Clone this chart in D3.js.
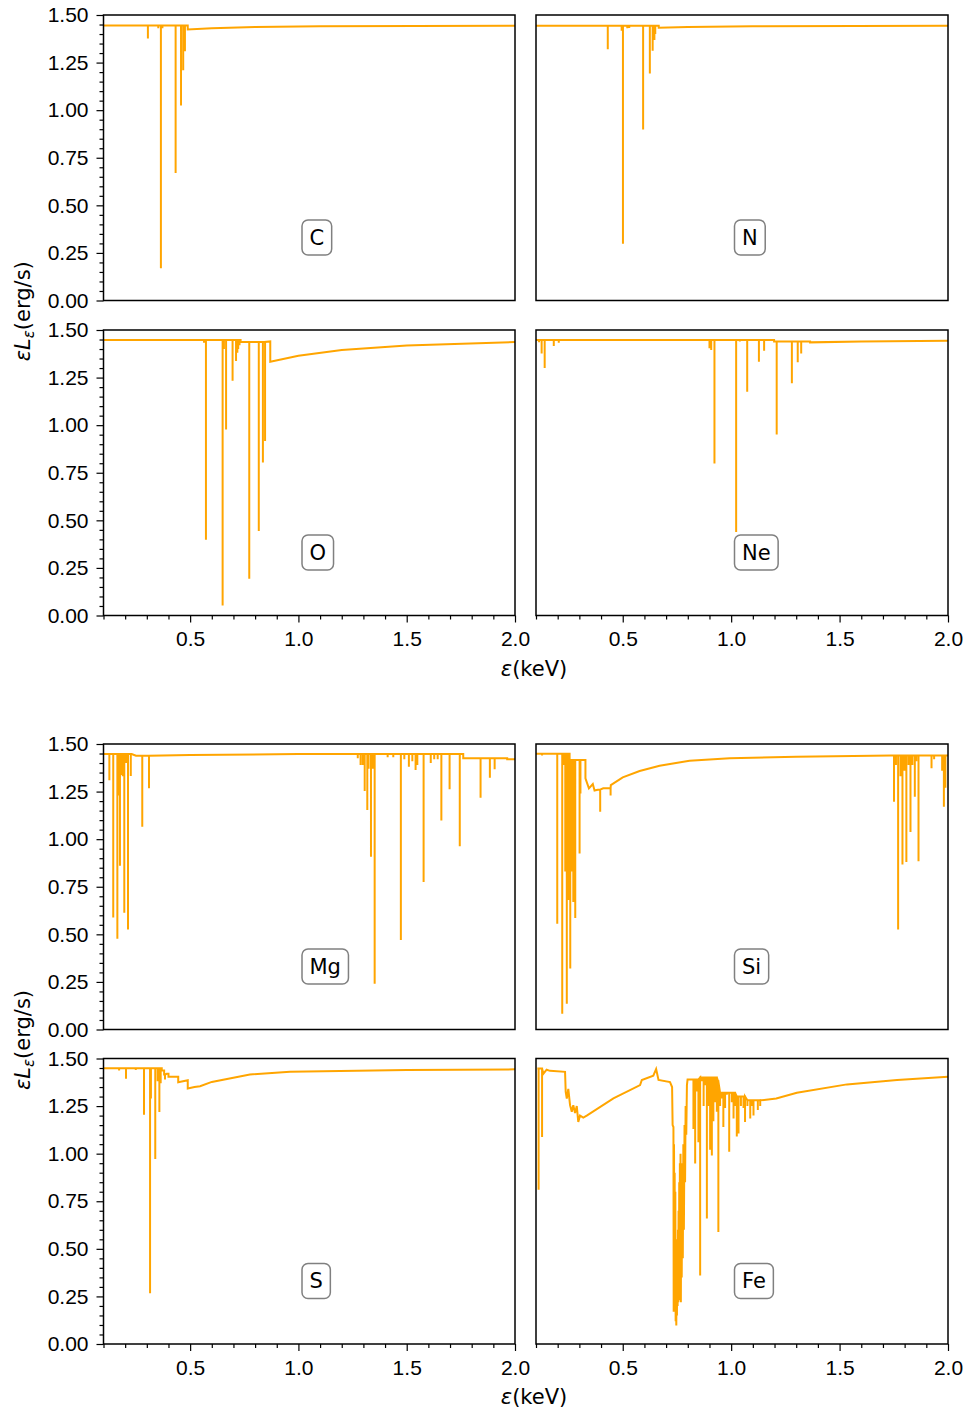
<!DOCTYPE html>
<html>
<head>
<meta charset="utf-8">
<script src="https://cdn.jsdelivr.net/npm/d3@7"></script>
<style>
  body { margin: 0; background: #fff; }
  svg { display: block; font-family: "DejaVu Sans", sans-serif; }
  .axis text { font-size: 21px; fill: #000; }
  .axis line { stroke: #000; stroke-width: 1.2; }
</style>
</head>
<body>
<div id="chart"></div>
<script>
// tick values
const xMajorTicks = [0.5, 1.0, 1.5, 2.0];
const xMinorTicks = [0.1, 0.2, 0.3, 0.4, 0.6, 0.7, 0.8, 0.9, 1.1, 1.2, 1.3, 1.4, 1.6, 1.7, 1.8, 1.9];
const yMajorTicks = [0, 0.25, 0.5, 0.75, 1.0, 1.25, 1.5];
const yMinorTicks = [0.05, 0.1, 0.15, 0.2, 0.3, 0.35, 0.4, 0.45, 0.55, 0.6, 0.65, 0.7, 0.8, 0.85, 0.9, 0.95, 1.05, 1.1, 1.15, 1.2, 1.3, 1.35, 1.4, 1.45];

const elements = ["C", "N", "O", "Ne", "Mg", "Si", "S", "Fe"];

// continuum knots: [energy keV, eL_e]
const contC = [[0.1, 1.445], [0.489, 1.445], [0.489, 1.424], [0.6, 1.430], [0.8, 1.437], [1.1, 1.441], [2.0, 1.443]];
const contN = [[0.1, 1.444], [0.666, 1.444], [0.666, 1.433], [0.8, 1.437], [1.1, 1.441], [2.0, 1.444]];
const contO = [[0.1, 1.447], [0.733, 1.447], [0.733, 1.437], [0.870, 1.440], [0.870, 1.333], [1.0, 1.365], [1.2, 1.395], [1.5, 1.418], [2.0, 1.437]];
const contNe = [[0.1, 1.447], [1.198, 1.447], [1.198, 1.440], [1.364, 1.440], [1.364, 1.435], [1.6, 1.439], [2.0, 1.443]];
const contMg = [[0.1, 1.447], [0.23, 1.447], [0.25, 1.438], [0.5, 1.442], [1.0, 1.447], [1.761, 1.447], [1.761, 1.425], [1.964, 1.425], [1.964, 1.420], [2.0, 1.420]];
const contSi = [[0.1, 1.449], [0.255, 1.449], [0.255, 1.416], [0.328, 1.416], [0.328, 1.319], [0.344, 1.267], [0.362, 1.29], [0.370, 1.256],
  [0.385, 1.26], [0.41, 1.267], [0.44, 1.267], [0.445, 1.284], [0.50, 1.325], [0.578, 1.358], [0.670, 1.386], [0.808, 1.412],
  [0.993, 1.425], [1.30, 1.433], [1.739, 1.44], [2.0, 1.44]];
const contS = [[0.1, 1.449], [0.369, 1.449], [0.369, 1.437], [0.38, 1.437], [0.38, 1.416], [0.392, 1.42], [0.40, 1.42], [0.40, 1.404],
  [0.445, 1.404], [0.445, 1.375], [0.489, 1.386], [0.489, 1.342], [0.52, 1.35], [0.546, 1.354], [0.60, 1.377], [0.776, 1.416],
  [0.961, 1.43], [1.5, 1.44], [2.0, 1.443]];
const contFe = [[0.106, 1.448], [0.134, 1.42], [0.149, 1.441], [0.165, 1.435], [0.234, 1.43], [0.237, 1.325], [0.242, 1.29], [0.249, 1.34],
  [0.257, 1.255], [0.265, 1.22], [0.272, 1.255], [0.280, 1.213], [0.288, 1.25], [0.295, 1.167], [0.303, 1.20], [0.318, 1.19],
  [0.334, 1.20], [0.457, 1.29], [0.580, 1.36], [0.588, 1.387], [0.641, 1.41], [0.654, 1.445], [0.665, 1.387], [0.718, 1.376],
  [0.7276, 1.35], [0.7300, 1.15], [0.7338, 1.14], [0.7350, 0.17], [0.7365, 1.05], [0.7380, 0.25], [0.7395, 0.90], [0.7410, 0.20],
  [0.7425, 0.80], [0.7440, 0.12], [0.7455, 0.55], [0.7470, 0.097], [0.7485, 0.45], [0.7500, 0.15], [0.7515, 0.50], [0.7530, 0.20],
  [0.7545, 0.60], [0.7560, 0.22], [0.7575, 0.70], [0.7590, 0.25], [0.7605, 0.85], [0.7620, 0.30], [0.7635, 0.95], [0.7650, 0.23],
  [0.7665, 1.00], [0.7680, 0.22], [0.7700, 0.90], [0.7720, 0.35], [0.7745, 0.95], [0.7770, 0.45], [0.7795, 1.05], [0.7820, 0.60],
  [0.7850, 1.15], [0.7875, 0.85], [0.7900, 1.25], [0.7930, 1.10], [0.7960, 1.36], [0.7990, 1.39], [0.857, 1.40], [0.911, 1.40],
  [0.940, 1.38], [0.949, 1.32], [0.991, 1.32], [1.026, 1.30], [1.075, 1.28], [1.134, 1.28], [1.208, 1.29], [1.303, 1.32],
  [1.534, 1.364], [1.765, 1.387], [2.0, 1.404]];

// absorption lines: [energy keV, minimum eL_e]
const linesC = [[0.305, 1.376], [0.353, 1.430], [0.365, 0.17], [0.372, 1.43], [0.433, 0.67], [0.458, 1.025], [0.468, 1.21], [0.476, 1.31]];
const linesN = [[0.431, 1.32], [0.495, 1.417], [0.501, 0.298], [0.521, 1.43], [0.530, 1.432], [0.594, 0.898], [0.625, 1.193],
  [0.638, 1.312], [0.646, 1.368], [0.650, 1.40]];
const linesO = [[0.564, 1.433], [0.573, 0.398], [0.650, 0.053], [0.656, 1.40], [0.666, 0.977], [0.696, 1.233], [0.712, 1.337],
  [0.718, 1.38], [0.722, 1.40], [0.728, 1.42], [0.773, 0.193], [0.817, 0.444], [0.836, 0.804], [0.846, 0.917]];
const linesNe = [[0.114, 1.435], [0.126, 1.377], [0.140, 1.30], [0.182, 1.416], [0.205, 1.433], [0.900, 1.404], [0.908, 1.395],
  [0.923, 0.798], [1.023, 0.439], [1.040, 1.44], [1.074, 1.175], [1.128, 1.333], [1.152, 1.391], [1.210, 0.951], [1.280, 1.22],
  [1.307, 1.33], [1.323, 1.377]];
const linesMg = [[0.127, 1.31], [0.145, 0.588], [0.164, 0.477], [0.170, 1.23], [0.176, 0.86], [0.184, 1.337], [0.189, 1.33],
  [0.196, 0.614], [0.204, 1.40], [0.213, 0.525], [0.226, 1.332], [0.279, 1.065], [0.310, 1.267], [1.274, 1.425], [1.287, 1.39],
  [1.297, 1.39], [1.306, 1.253], [1.318, 1.153], [1.324, 1.37], [1.335, 0.907], [1.343, 1.37], [1.352, 0.24], [1.412, 1.43],
  [1.438, 1.43], [1.473, 0.47], [1.489, 1.42], [1.510, 1.38], [1.526, 1.41], [1.541, 1.363], [1.549, 1.39], [1.578, 0.775],
  [1.611, 1.40], [1.627, 1.42], [1.643, 1.42], [1.660, 1.098], [1.698, 1.262], [1.745, 0.963], [1.841, 1.217], [1.884, 1.323],
  [1.906, 1.367]];
const linesSi = [[0.128, 1.44], [0.198, 0.556], [0.221, 0.083], [0.227, 1.39], [0.235, 0.83], [0.242, 0.135], [0.250, 0.68],
  [0.258, 0.32], [0.265, 0.83], [0.272, 0.67], [0.281, 0.586], [0.301, 0.925], [0.305, 1.24], [0.396, 1.144], [0.444, 1.23],
  [1.751, 1.196], [1.760, 1.39], [1.770, 0.525], [1.781, 1.33], [1.790, 0.867], [1.799, 1.36], [1.808, 0.88], [1.818, 1.39],
  [1.827, 1.038], [1.836, 1.39], [1.847, 1.223], [1.854, 1.41], [1.864, 0.884], [1.924, 1.372], [1.936, 1.42], [1.973, 1.36],
  [1.981, 1.17], [1.988, 1.27]];
const linesS = [[0.172, 1.437], [0.204, 1.393], [0.249, 1.44], [0.287, 1.205], [0.315, 0.267], [0.319, 1.29], [0.339, 0.972],
  [0.350, 1.38], [0.358, 1.219], [0.364, 1.37], [0.384, 1.39]];
const linesFe = [[0.112, 0.81], [0.128, 1.087], [0.826, 1.13], [0.834, 0.948], [0.842, 1.327], [0.849, 1.06], [0.857, 0.36],
  [0.865, 1.38], [0.873, 1.25], [0.880, 1.36], [0.888, 0.659], [0.895, 1.25], [0.903, 1.02], [0.911, 0.99], [0.918, 1.17],
  [0.926, 1.27], [0.934, 1.22], [0.941, 0.588], [0.949, 1.25], [0.957, 1.29], [0.964, 1.14], [0.972, 1.24], [0.980, 1.31],
  [0.991, 1.01], [1.003, 1.27], [1.011, 1.185], [1.018, 1.25], [1.026, 1.09], [1.034, 1.106], [1.045, 1.25], [1.057, 1.24],
  [1.064, 1.166], [1.075, 1.25], [1.088, 1.185], [1.095, 1.25], [1.103, 1.20], [1.123, 1.23], [1.134, 1.25]];

const continua = [contC, contN, contO, contNe, contMg, contSi, contS, contFe];
const absLines = [linesC, linesN, linesO, linesNe, linesMg, linesSi, linesS, linesFe];

const width = 969, height = 1410;
const lineColor = "#ffa500";

// panel grid
const cols = [{ x0: 103.5, x1: 515 }, { x0: 536, x1: 948 }];
const rows = [{ y0: 15, y1: 300.5 }, { y0: 330, y1: 615.5 }, { y0: 744, y1: 1029.5 }, { y0: 1058.5, y1: 1344 }];

const svg = d3.select("#chart").append("svg")
    .attr("width", width)
    .attr("height", height);

svg.append("rect").attr("width", width).attr("height", height).attr("fill", "#fff");

// merge continuum and lines into one spectrum path
function buildSpectrum(cont, lines) {
    const items = cont.map(c => ({ e: c[0], v: c[1], kind: "c" }))
        .concat(lines.map(l => ({ e: l[0], v: l[1], kind: "l" })));
    items.sort((a, b) => a.e - b.e);
    const pts = [];
    let lvl = cont[0][1];
    for (const it of items) {
        if (it.kind === "c") {
            pts.push([it.e, it.v]);
            lvl = it.v;
        } else {
            pts.push([it.e, lvl], [it.e, it.v], [it.e, lvl]);
        }
    }
    return pts;
}

elements.forEach((name, i) => {
    const row = rows[Math.floor(i / 2)];
    const col = cols[i % 2];
    const rowIdx = Math.floor(i / 2);
    const showX = rowIdx % 2 === 1;
    const showY = i % 2 === 0;

    const x = d3.scaleLinear().domain([0.1, 2.0]).range([col.x0, col.x1]);
    const y = d3.scaleLinear().domain([0, 1.5]).range([row.y1, row.y0]);

    const g = svg.append("g");

    g.append("clipPath").attr("id", "clip" + i)
        .append("rect")
        .attr("x", col.x0).attr("y", row.y0)
        .attr("width", col.x1 - col.x0).attr("height", row.y1 - row.y0);

    const line = d3.line().x(d => x(d[0])).y(d => y(d[1]));

    g.append("path")
        .datum(buildSpectrum(continua[i], absLines[i]))
        .attr("clip-path", `url(#clip${i})`)
        .attr("d", line)
        .attr("fill", "none")
        .attr("stroke", lineColor)
        .attr("stroke-width", 2)
        .attr("stroke-linejoin", "miter");

    // axes
    if (showX) {
        g.append("g").attr("class", "axis")
            .attr("transform", `translate(0, ${row.y1})`)
            .call(d3.axisBottom(x).tickValues(xMinorTicks).tickSize(4).tickFormat(""))
            .call(a => a.select(".domain").remove());
        g.append("g").attr("class", "axis")
            .attr("transform", `translate(0, ${row.y1})`)
            .call(d3.axisBottom(x).tickValues(xMajorTicks).tickSize(7).tickPadding(9).tickFormat(d3.format(".1f")))
            .call(a => a.select(".domain").remove());
    }
    if (showY) {
        g.append("g").attr("class", "axis")
            .attr("transform", `translate(${col.x0}, 0)`)
            .call(d3.axisLeft(y).tickValues(yMinorTicks).tickSize(4).tickFormat(""))
            .call(a => a.select(".domain").remove());
        g.append("g").attr("class", "axis")
            .attr("transform", `translate(${col.x0}, 0)`)
            .call(d3.axisLeft(y).tickValues(yMajorTicks).tickSize(7).tickPadding(8).tickFormat(d3.format(".2f")))
            .call(a => a.select(".domain").remove());
    }

    // frame
    g.append("rect")
        .attr("x", col.x0).attr("y", row.y0)
        .attr("width", col.x1 - col.x0).attr("height", row.y1 - row.y0)
        .attr("fill", "none")
        .attr("stroke", "#000")
        .attr("stroke-width", 1.5);

    // element label box
    const lab = g.append("g").attr("transform", `translate(${col.x0 + 198.5}, ${row.y1 - 63})`);
    const box = lab.append("rect");
    const txt = lab.append("text")
        .attr("font-size", 21)
        .attr("dominant-baseline", "central")
        .attr("y", 0)
        .text(name);
    const tw = txt.node().getComputedTextLength();
    txt.attr("x", 7.5);
    box.attr("x", 0).attr("y", -17.5)
        .attr("width", tw + 15).attr("height", 35)
        .attr("rx", 6).attr("ry", 6)
        .attr("fill", "#fff")
        .attr("stroke", "#808080")
        .attr("stroke-width", 1.5);
});

// shared axis labels for each group
[0, 1].forEach(grp => {
    const top = rows[grp * 2].y0, bottom = rows[grp * 2 + 1].y1;
    const yl = svg.append("text")
        .attr("transform", `translate(30, ${(top + bottom) / 2 - 4}) rotate(-90)`)
        .attr("text-anchor", "middle")
        .attr("font-size", 21);
    yl.append("tspan").attr("font-style", "italic").text("εL");
    yl.append("tspan").attr("font-style", "italic").attr("font-size", 15).attr("dy", 4).text("ε");
    yl.append("tspan").attr("dy", -4).text("(erg/s)");

    const xl = svg.append("text")
        .attr("x", 534)
        .attr("y", bottom + 60)
        .attr("text-anchor", "middle")
        .attr("font-size", 21);
    xl.append("tspan").attr("font-style", "italic").text("ε");
    xl.append("tspan").text("(keV)");
});
</script>
</body>
</html>
